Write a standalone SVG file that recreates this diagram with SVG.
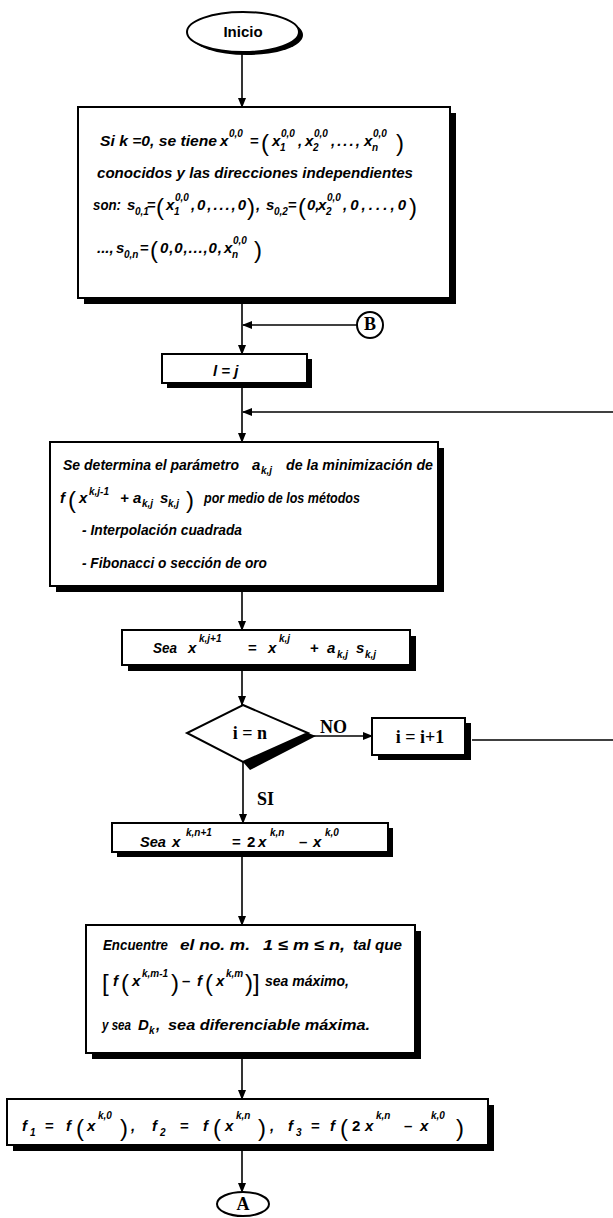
<svg xmlns="http://www.w3.org/2000/svg" width="613" height="1218" viewBox="0 0 613 1218">
<defs>
<style>
.bx{fill:#fff;stroke:#000;stroke-width:2}
.sh{fill:#000}
.ln{stroke:#000;stroke-width:1.6;fill:none}
.ar{marker-end:url(#ah)}
.t{font-family:"Liberation Sans",Arial,sans-serif;font-weight:bold;font-style:italic;font-size:15px;fill:#000}
.s{font-size:10px}
.p{font-style:normal;font-weight:normal;font-size:24px}
.u{font-style:normal}
.r{font-family:"Liberation Serif","Times New Roman",serif;font-weight:bold;font-style:normal;font-size:18px;fill:#000}
</style>
<marker id="ah" markerWidth="10" markerHeight="8" refX="9" refY="4" orient="auto" markerUnits="userSpaceOnUse"><path d="M0,0 L10,4 L0,8 z" fill="#000"/></marker>
</defs>
<rect width="613" height="1218" fill="#fff"/>

<g id="connectors">
<line class="ln ar" x1="242" y1="52" x2="242" y2="107"/>
<line class="ln ar" x1="242" y1="304" x2="242" y2="354"/>
<line class="ln ar" x1="357" y1="325" x2="243" y2="325"/>
<line class="ln ar" x1="242" y1="388" x2="242" y2="442"/>
<line class="ln ar" x1="613" y1="412" x2="243" y2="412"/>
<line class="ln ar" x1="242" y1="592" x2="242" y2="630"/>
<line class="ln ar" x1="242" y1="671" x2="242" y2="705"/>
<line class="ln ar" x1="310" y1="736" x2="372" y2="736"/>
<line class="ln" x1="472" y1="740" x2="613" y2="740"/>
<line class="ln ar" x1="243" y1="762" x2="243" y2="823"/>
<line class="ln ar" x1="242" y1="857" x2="242" y2="925"/>
<line class="ln ar" x1="242" y1="1059" x2="242" y2="1099"/>
<line class="ln ar" x1="242" y1="1151" x2="242" y2="1192"/>
<text class="r" x="320" y="733" font-size="20">NO</text>
<text class="r" x="257" y="805">SI</text>
</g>

<g id="inicio">
<ellipse cx="247" cy="35" rx="56" ry="20" class="sh"/>
<ellipse cx="243" cy="32" rx="56" ry="20" class="bx"/>
<text x="243" y="37" text-anchor="middle" font-family="Liberation Sans,Arial,sans-serif" font-weight="bold" font-size="15">Inicio</text>
</g>

<g id="init-box">
<rect x="84" y="113" width="372" height="191" class="sh"/>
<rect x="78" y="107" width="372" height="191" class="bx"/>
<text class="t"><tspan x="100" y="146" textLength="117" lengthAdjust="spacingAndGlyphs">Si k =0, se tiene</tspan><tspan x="220" y="146">x</tspan><tspan class="s" x="229" y="137">0,0</tspan><tspan class="u" x="250" y="146">=</tspan><tspan class="p" x="261" y="151">(</tspan><tspan x="272" y="146">x</tspan><tspan class="s" x="280" y="151">1</tspan><tspan class="s" x="281" y="137">0,0</tspan><tspan x="298" y="146">,</tspan><tspan x="305" y="146">x</tspan><tspan class="s" x="313" y="151">2</tspan><tspan class="s" x="314" y="137">0,0</tspan><tspan x="331" y="146" letter-spacing="2">,...,</tspan><tspan x="364" y="146">x</tspan><tspan class="s" x="372" y="151">n</tspan><tspan class="s" x="373" y="137">0,0</tspan><tspan class="p" x="396" y="151">)</tspan></text>
<text class="t" x="97" y="178" textLength="316" lengthAdjust="spacingAndGlyphs">conocidos y las direcciones independientes</text>
<text class="t"><tspan x="93" y="210" textLength="28" lengthAdjust="spacingAndGlyphs">son:</tspan><tspan x="127" y="210">s</tspan><tspan class="s" x="135" y="215">0,1</tspan><tspan class="u" x="147" y="210">=</tspan><tspan class="p" x="156" y="215">(</tspan><tspan x="166" y="210">x</tspan><tspan class="s" x="174" y="215">1</tspan><tspan class="s" x="175" y="201">0,0</tspan><tspan x="191" y="210" textLength="55" lengthAdjust="spacing">,0,...,0</tspan><tspan class="p" x="247" y="215">)</tspan><tspan x="256" y="210">,</tspan><tspan x="266" y="210">s</tspan><tspan class="s" x="274" y="215">0,2</tspan><tspan class="u" x="288" y="210">=</tspan><tspan class="p" x="298" y="215">(</tspan><tspan x="307" y="210">0,</tspan><tspan x="318" y="210">x</tspan><tspan class="s" x="326" y="215">2</tspan><tspan class="s" x="327" y="201">0,0</tspan><tspan x="343" y="210" textLength="63" lengthAdjust="spacing">,0,...,0</tspan><tspan class="p" x="409" y="215">)</tspan></text>
<text class="t"><tspan x="97" y="253">...,</tspan><tspan x="116" y="253">s</tspan><tspan class="s" x="124" y="258">0,n</tspan><tspan class="u" x="140" y="253">=</tspan><tspan class="p" x="150" y="258">(</tspan><tspan x="160" y="253" textLength="62" lengthAdjust="spacing">0,0,...,0,</tspan><tspan x="224" y="253">x</tspan><tspan class="s" x="232" y="258">n</tspan><tspan class="s" x="233" y="244">0,0</tspan><tspan class="p" x="254" y="258">)</tspan></text>
</g>

<g id="connector-b">
<circle cx="370" cy="325" r="13" class="bx"/>
<text class="r" x="370" y="330" text-anchor="middle" font-size="15">B</text>
</g>

<g id="l-eq-j">
<rect x="167" y="359" width="145" height="29" class="sh"/>
<rect x="162" y="354" width="145" height="29" class="bx"/>
<text class="t" x="213" y="376" font-size="17">l  =  j</text>
</g>

<g id="minimize-box">
<rect x="56" y="448" width="388" height="144" class="sh"/>
<rect x="50" y="442" width="388" height="144" class="bx"/>
<text class="t"><tspan x="63" y="470" textLength="176" lengthAdjust="spacingAndGlyphs">Se determina el parámetro</tspan><tspan x="252" y="470">a</tspan><tspan class="s" x="261" y="474">k,j</tspan><tspan x="286" y="470" textLength="147" lengthAdjust="spacingAndGlyphs">de la minimización de</tspan></text>
<text class="t"><tspan x="60" y="503">f</tspan><tspan class="p" x="68" y="508">(</tspan><tspan x="79" y="503">x</tspan><tspan class="s" x="89" y="495">k,j-1</tspan><tspan x="120" y="503">+</tspan><tspan x="133" y="503">a</tspan><tspan class="s" x="142" y="507">k,j</tspan><tspan x="160" y="503">s</tspan><tspan class="s" x="168" y="507">k,j</tspan><tspan class="p" x="186" y="508">)</tspan><tspan x="204" y="503" textLength="156" lengthAdjust="spacingAndGlyphs">por medio de los métodos</tspan></text>
<text class="t" x="82" y="535" textLength="160" lengthAdjust="spacingAndGlyphs">-  Interpolación  cuadrada</text>
<text class="t" x="82" y="568" textLength="185" lengthAdjust="spacingAndGlyphs">-  Fibonacci o sección de oro</text>
</g>

<g id="update-box">
<rect x="128" y="636" width="288" height="35" class="sh"/>
<rect x="122" y="630" width="288" height="35" class="bx"/>
<text class="t" font-size="17"><tspan x="153" y="653" textLength="24" lengthAdjust="spacingAndGlyphs">Sea</tspan><tspan x="188" y="653">x</tspan><tspan class="s" x="199" y="642" font-size="11">k,j+1</tspan><tspan class="u" x="248" y="653">=</tspan><tspan x="268" y="653">x</tspan><tspan class="s" x="279" y="642" font-size="11">k,j</tspan><tspan class="u" x="310" y="653">+</tspan><tspan x="327" y="653">a</tspan><tspan class="s" x="337" y="658">k,j</tspan><tspan x="356" y="653">s</tspan><tspan class="s" x="365" y="658">k,j</tspan></text>
</g>

<g id="decision">
<polygon points="308,733 316,736 250,770 243,762" class="sh"/>
<polygon points="243,705 308,733 243,762 187,733" class="bx"/>
<text class="r" x="250" y="739" text-anchor="middle" font-size="18">i = n</text>
</g>

<g id="increment-box">
<rect x="378" y="723" width="93" height="37" class="sh"/>
<rect x="372" y="718" width="93" height="37" class="bx"/>
<text class="r" x="420" y="743" text-anchor="middle" font-size="17">i = i+1</text>
</g>

<g id="reflect-box">
<rect x="117" y="828" width="276" height="29" class="sh"/>
<rect x="112" y="823" width="276" height="29" class="bx"/>
<text class="t" font-size="18"><tspan x="140" y="847" textLength="26" lengthAdjust="spacingAndGlyphs" font-size="15">Sea</tspan><tspan x="172" y="847">x</tspan><tspan class="s" x="186" y="836" font-size="12">k,n+1</tspan><tspan class="u" x="232" y="847">=</tspan><tspan class="u" x="247" y="847">2</tspan><tspan x="258" y="847">x</tspan><tspan class="s" x="270" y="836" font-size="12">k,n</tspan><tspan class="u" x="299" y="847">–</tspan><tspan x="313" y="847">x</tspan><tspan class="s" x="325" y="836" font-size="12">k,0</tspan></text>
</g>

<g id="find-box">
<rect x="92" y="931" width="329" height="128" class="sh"/>
<rect x="86" y="925" width="329" height="128" class="bx"/>
<text class="t"><tspan x="103" y="950" textLength="65" lengthAdjust="spacingAndGlyphs">Encuentre</tspan><tspan x="180" y="950" textLength="70" lengthAdjust="spacingAndGlyphs">el no. m.</tspan><tspan x="263" y="950" textLength="82" lengthAdjust="spacingAndGlyphs">1 ≤ m ≤ n,</tspan><tspan x="353" y="950" textLength="49" lengthAdjust="spacingAndGlyphs">tal que</tspan></text>
<text class="t"><tspan class="p" x="102" y="991">[</tspan><tspan x="113" y="986">f</tspan><tspan class="p" x="121" y="991">(</tspan><tspan x="132" y="986">x</tspan><tspan class="s" x="142" y="977">k,m-1</tspan><tspan class="p" x="171" y="991">)</tspan><tspan class="u" x="182" y="986">–</tspan><tspan x="197" y="986">f</tspan><tspan class="p" x="205" y="991">(</tspan><tspan x="216" y="986">x</tspan><tspan class="s" x="226" y="977">k,m</tspan><tspan class="p" x="245" y="991">)</tspan><tspan class="p" x="253" y="991">]</tspan><tspan x="265" y="986" textLength="84" lengthAdjust="spacingAndGlyphs">sea máximo,</tspan></text>
<text class="t"><tspan x="102" y="1030" textLength="29" lengthAdjust="spacingAndGlyphs">y sea</tspan><tspan x="138" y="1030">D</tspan><tspan class="s" x="149" y="1034">k</tspan><tspan x="156" y="1030">,</tspan><tspan x="168" y="1030" textLength="202" lengthAdjust="spacingAndGlyphs">sea diferenciable máxima.</tspan></text>
</g>

<g id="eval-box">
<rect x="13" y="1105" width="481" height="46" class="sh"/>
<rect x="7" y="1099" width="481" height="46" class="bx"/>
<text class="t" font-size="18"><tspan x="22" y="1131">f</tspan><tspan class="s" x="30" y="1136" font-size="11">1</tspan><tspan class="u" x="45" y="1131">=</tspan><tspan x="66" y="1131">f</tspan><tspan class="p" x="76" y="1136" font-size="27">(</tspan><tspan x="87" y="1131">x</tspan><tspan class="s" x="98" y="1119" font-size="11">k,0</tspan><tspan class="p" x="120" y="1136" font-size="27">)</tspan><tspan x="131" y="1131">,</tspan><tspan x="152" y="1131">f</tspan><tspan class="s" x="160" y="1136" font-size="11">2</tspan><tspan class="u" x="180" y="1131">=</tspan><tspan x="203" y="1131">f</tspan><tspan class="p" x="213" y="1136" font-size="27">(</tspan><tspan x="225" y="1131">x</tspan><tspan class="s" x="236" y="1119" font-size="11">k,n</tspan><tspan class="p" x="258" y="1136" font-size="27">)</tspan><tspan x="270" y="1131">,</tspan><tspan x="288" y="1131">f</tspan><tspan class="s" x="296" y="1136" font-size="11">3</tspan><tspan class="u" x="311" y="1131">=</tspan><tspan x="330" y="1131">f</tspan><tspan class="p" x="340" y="1136" font-size="27">(</tspan><tspan class="u" x="352" y="1131">2</tspan><tspan x="365" y="1131">x</tspan><tspan class="s" x="376" y="1119" font-size="11">k,n</tspan><tspan class="u" x="404" y="1131">–</tspan><tspan x="420" y="1131">x</tspan><tspan class="s" x="431" y="1119" font-size="11">k,0</tspan><tspan class="p" x="456" y="1136" font-size="27">)</tspan></text>
</g>

<g id="connector-a">
<ellipse cx="243" cy="1204" rx="26" ry="12" class="bx"/>
<text class="r" x="243" y="1210" text-anchor="middle" font-size="16">A</text>
</g>
</svg>
